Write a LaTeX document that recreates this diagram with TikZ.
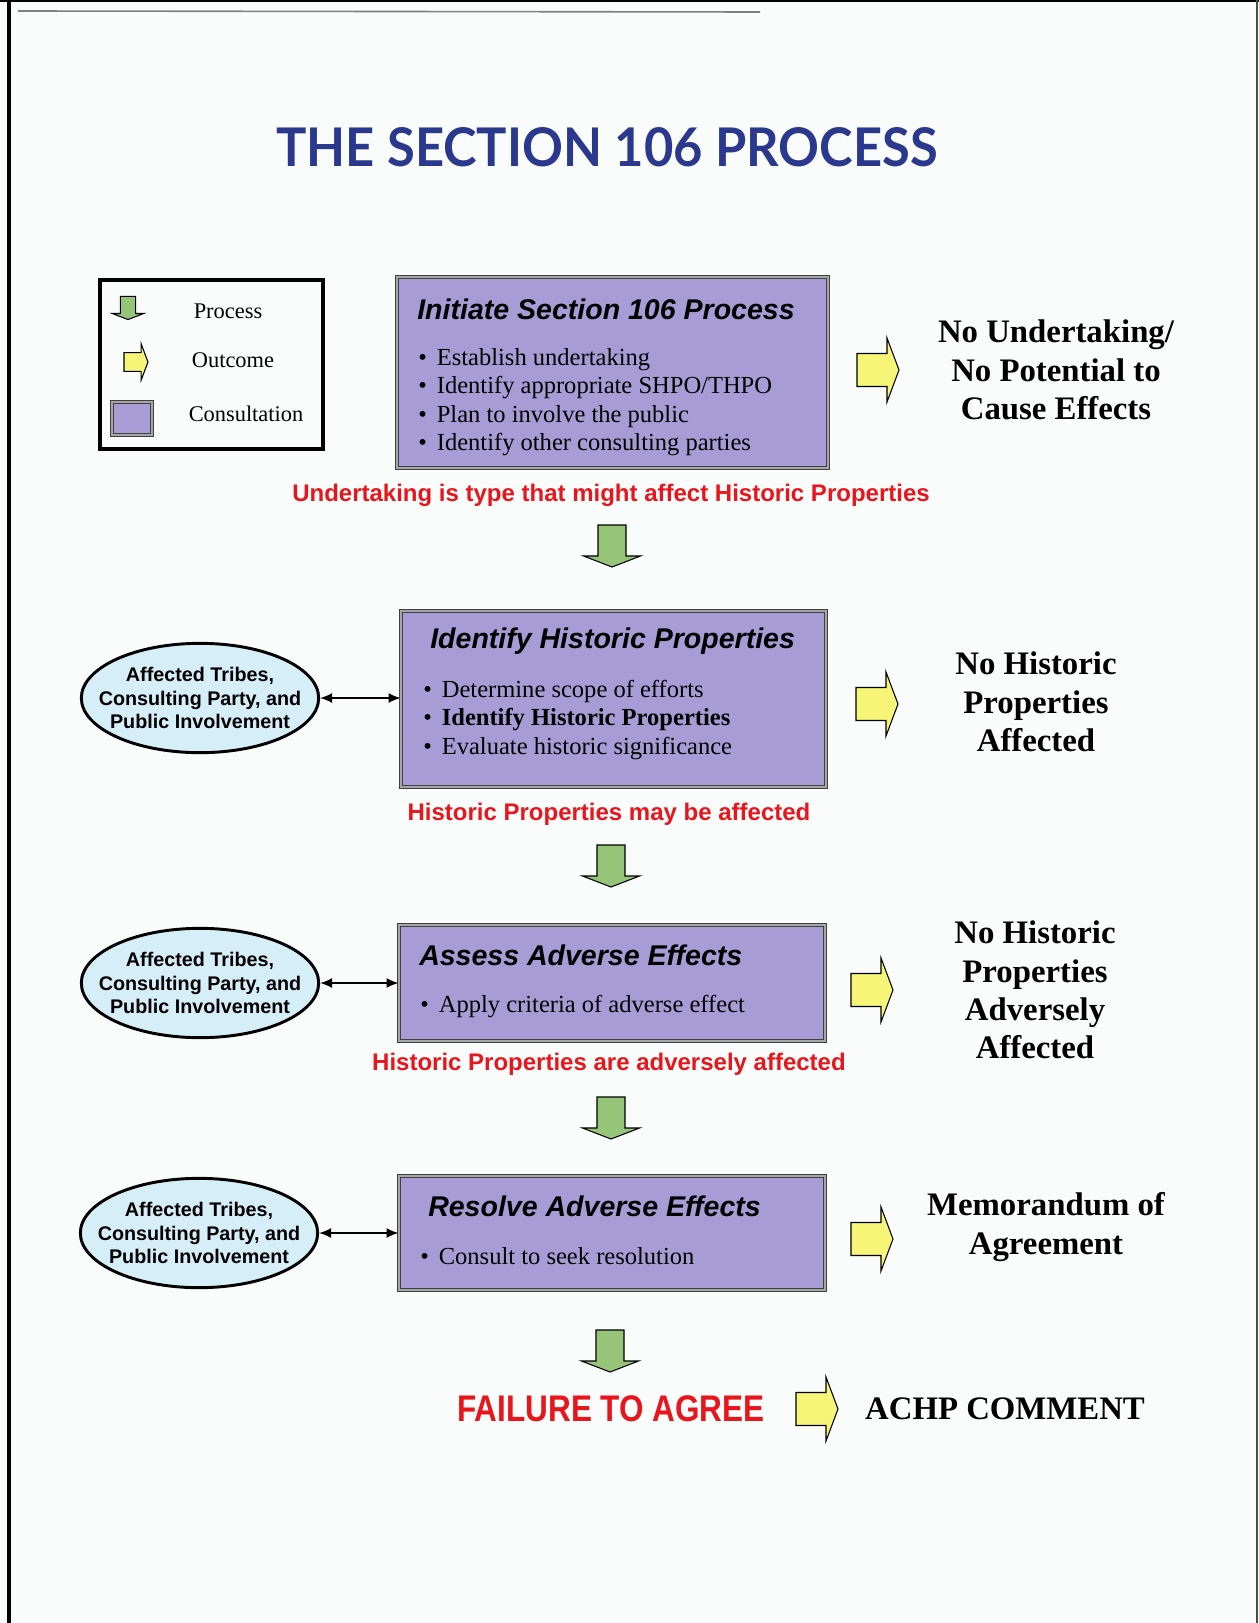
\documentclass[tikz,border=0pt]{standalone}
\usepackage{fontspec}
\setmainfont{Liberation Serif}
\setsansfont{Liberation Sans}
\newfontfamily\titlefont[FakeStretch=0.95]{Lato}
\newfontfamily\narrowsans[FakeStretch=0.85]{Liberation Sans}
\usetikzlibrary{shapes.geometric,arrows.meta}

\definecolor{titleblue}{RGB}{42,56,142}
\definecolor{lavender}{RGB}{168,156,214}
\definecolor{partyblue}{RGB}{214,238,248}
\definecolor{procgreen}{RGB}{150,197,122}
\definecolor{outyellow}{RGB}{247,245,120}
\definecolor{alertred}{RGB}{232,22,28}
\definecolor{paper}{RGB}{250,252,252}

\newcommand{\bulletitem}{\textbullet\hspace{7.5pt}}

\tikzset{
  consult/.style={draw=black!75, double=black!35, double distance=1.6pt, line width=0.7pt, fill=lavender, inner sep=0pt},
  party/.style={ellipse, draw=black, line width=2.2pt, fill=partyblue, minimum width=178pt, minimum height=82pt, align=center, inner sep=-20pt, font=\sffamily\bfseries\fontsize{14.8}{17.9}\selectfont},
  boxtitle/.style={anchor=west, inner sep=0pt, font=\sffamily\bfseries\itshape\fontsize{21.4}{24}\selectfont},
  bullets/.style={anchor=west, inner sep=0pt, align=left, font=\fontsize{18.4}{21.4}\selectfont},
  outcome/.style={align=center, inner sep=0pt, font=\bfseries\fontsize{24.6}{28.7}\selectfont},
  condition/.style={text=alertred, inner sep=0pt, font=\sffamily\bfseries\fontsize{18}{21}\selectfont},
  legendtext/.style={inner sep=0pt, font=\fontsize{16.8}{19}\selectfont},
  involve/.style={{Latex[length=9pt,width=7.5pt]}-{Latex[length=9pt,width=7.5pt]}, line width=1.1pt},
  pics/greenarrow/.style={code={
    \draw[fill=procgreen, line width=0.8pt] (-14,21) -- (14,21) -- (14,-10) -- (28.5,-10) -- (0,-21) -- (-28.5,-10) -- (-14,-10) -- cycle;}},
  pics/yellowarrow/.style={code={
    \draw[fill=outyellow, line width=0.8pt] (-21,-16.5) -- (9,-16.5) -- (9,-32) -- (21,0) -- (9,32) -- (9,16.5) -- (-21,16.5) -- cycle;}}
}

\begin{document}
\begin{tikzpicture}[x=0.75pt,y=0.75pt,yscale=-1,xscale=1]
%Page and frame
\fill[paper] (0,0) rectangle (1259,1623);
\useasboundingbox (0,0) rectangle (1259,1623);
\draw[line width=2.4pt] (9,0) -- (9,1623);
\draw[line width=1.5pt] (0,1) -- (1259,1);
\draw[line width=0.8pt, black!70] (1257,0) -- (1257,1623);
\draw[line width=1.2pt, black!50] (18,11) -- (760,12);

% Title
\node[text=titleblue, font=\titlefont\bfseries\fontsize{40}{46}\selectfont] (title) at (607,147) {THE SECTION 106 PROCESS};

%Shape: Legend
\node[draw, line width=2.6pt, minimum width=167pt, minimum height=126.5pt] (legend) at (211.5,364.5) {};
\pic[scale=0.55] at (128,308) {greenarrow};
\node[legendtext] (lprocess) at (228,311) {Process};
\pic[scale=0.57] at (136,362) {yellowarrow};
\node[legendtext] (loutcome) at (233,360) {Outcome};
\node[consult, minimum width=30pt, minimum height=24.75pt] (lconsult) at (132,418.5) {};
\node[legendtext] (lconsulttext) at (246,414) {Consultation};

%Step 1: Initiate
\node[consult, minimum width=323pt, minimum height=143pt] (initbox) at (612.5,372.5) {};
\node[boxtitle] (inittitle) at (417,309) {Initiate Section 106 Process};
\node[bullets] (initlist) at (418,402) {\bulletitem Establish undertaking\\ \bulletitem Identify appropriate SHPO/THPO\\ \bulletitem Plan to involve the public\\ \bulletitem Identify other consulting parties};
\pic at (878,370) {yellowarrow};
\node[outcome] (noundertaking) at (1056,370) {No Undertaking/\\No Potential to\\Cause Effects};
\node[condition] (cond1) at (611,495) {Undertaking is type that might affect Historic Properties};
\pic at (612,546) {greenarrow};

%Step 2: Identify
\node[consult, minimum width=318.75pt, minimum height=132pt] (identbox) at (613.5,699) {};
\node[boxtitle] (identtitle) at (430,641) {Identify Historic Properties};
\node[bullets] (identlist) at (423,720) {\bulletitem Determine scope of efforts\\ \bulletitem \textbf{Identify Historic Properties}\\ \bulletitem Evaluate historic significance};
\node[party] (party2) at (200,698) {Affected Tribes,\\Consulting Party, and\\Public Involvement};
\draw[involve] (party2.east) -- (party2.east -| identbox.west);
\pic at (877,704) {yellowarrow};
\node[outcome] (nohistoric) at (1036,702) {No Historic\\Properties\\Affected};
\node[condition] (cond2) at (609,814) {Historic Properties may be affected};
\pic at (611,866) {greenarrow};

%Step 3: Assess
\node[consult, minimum width=319.5pt, minimum height=87pt] (assessbox) at (612,983) {};
\node[boxtitle] (assesstitle) at (419,955) {Assess Adverse Effects};
\node[bullets] (assesslist) at (420,1006) {\bulletitem Apply criteria of adverse effect};
\node[party] (party3) at (200,983) {Affected Tribes,\\Consulting Party, and\\Public Involvement};
\draw[involve] (party3.east) -- (party3.east -| assessbox.west);
\pic at (872,990) {yellowarrow};
\node[outcome] (noadverse) at (1035,990) {No Historic\\Properties\\Adversely\\Affected};
\node[condition] (cond3) at (609,1064) {Historic Properties are adversely affected};
\pic at (611,1118) {greenarrow};

%Step 4: Resolve
\node[consult, minimum width=319.5pt, minimum height=85.5pt] (resolvebox) at (612,1233) {};
\node[boxtitle] (resolvetitle) at (428,1206) {Resolve Adverse Effects};
\node[bullets] (resolvelist) at (420,1256) {\bulletitem Consult to seek resolution};
\node[party] (party4) at (199,1233) {Affected Tribes,\\Consulting Party, and\\Public Involvement};
\draw[involve] (party4.east) -- (party4.east -| resolvebox.west);
\pic at (872,1239) {yellowarrow};
\node[outcome] (moa) at (1046,1227) {Memorandum of\\Agreement};
\pic at (610,1351) {greenarrow};

%Failure
\node[text=alertred, inner sep=0pt, font=\narrowsans\bfseries\fontsize{27.8}{30}\selectfont] (failure) at (611,1409) {FAILURE TO AGREE};
\pic at (817,1409) {yellowarrow};
\node[outcome] (achp) at (1005,1409) {ACHP COMMENT};
\end{tikzpicture}
\end{document}
